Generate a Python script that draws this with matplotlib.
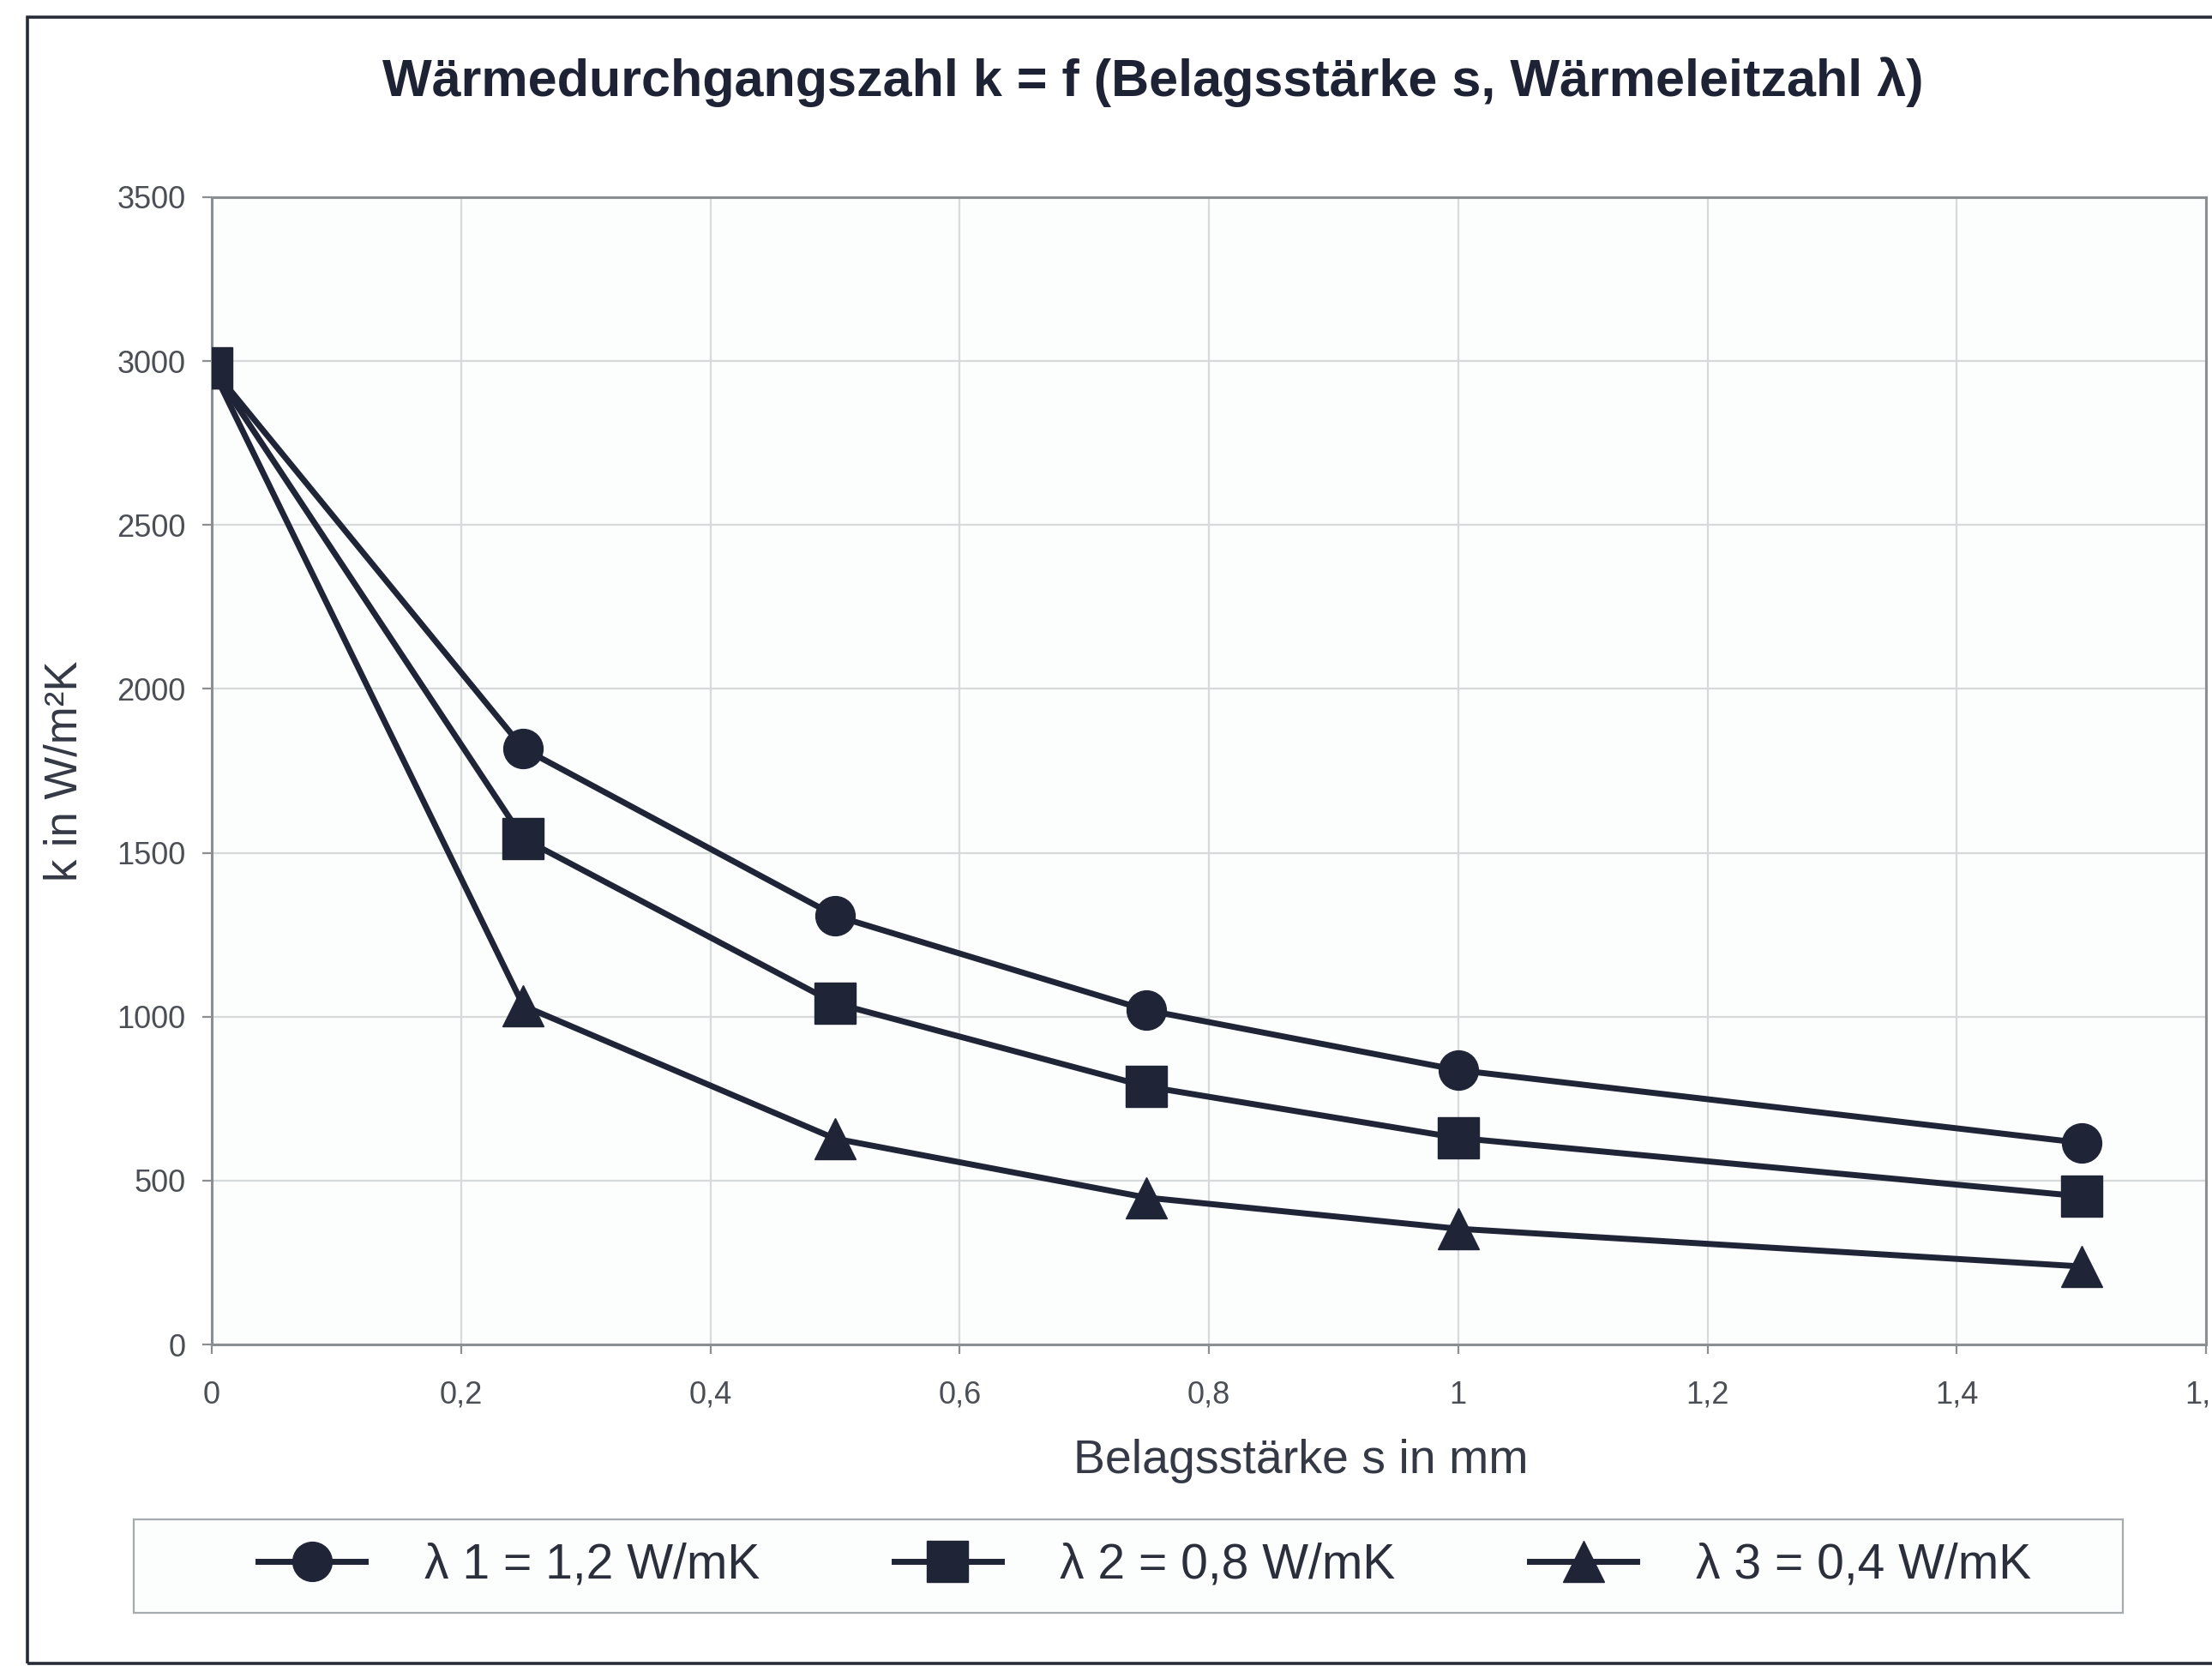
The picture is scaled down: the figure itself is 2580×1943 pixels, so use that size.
import matplotlib
matplotlib.use('Agg')
import matplotlib.pyplot as plt
from matplotlib.patches import Rectangle

# data
s_mm = [0, 0.25, 0.5, 0.75, 1.0, 1.5]
k_lam1 = [2980, 1818, 1308, 1020, 837, 615]     # lambda 1 = 1,2 W/mK
k_lam2 = [2980, 1543, 1041, 787, 630, 452]      # lambda 2 = 0,8 W/mK
k_lam3 = [2980, 1033, 628, 448, 353, 238]       # lambda 3 = 0,4 W/mK
labels = ['\u03bb 1 = 1,2 W/mK', '\u03bb 2 = 0,8 W/mK', '\u03bb 3 = 0,4 W/mK']
x_ticks = [0, 0.2, 0.4, 0.6, 0.8, 1.0, 1.2, 1.4, 1.6]
x_ticklabels = ['0', '0,2', '0,4', '0,6', '0,8', '1', '1,2', '1,4', '1,6']
y_ticks = [0, 500, 1000, 1500, 2000, 2500, 3000, 3500]

plt.rcParams['font.family'] = ['Liberation Sans', 'DejaVu Sans']

W, H = 2580, 1943
fig = plt.figure(figsize=(W / 100, H / 100), dpi=100)
fig.patch.set_facecolor('white')

# outer chart frame (right side is cut off in the scan)
fig.patches.append(Rectangle((32 / W, 3 / H), 1.2, 1 - 23 / H,
                             transform=fig.transFigure, fill=False,
                             edgecolor='#262b37', linewidth=2.6, clip_on=False))

ax = fig.add_axes([247 / W, 1 - 1568 / H, (2573 - 247) / W, (1568 - 230) / H])
ax.set_facecolor('#fcfdfd')

dark = '#1f2437'
ax.plot(s_mm, k_lam1, color=dark, lw=5, marker='o', ms=33, label=labels[0], zorder=3)
ax.plot(s_mm, k_lam2, color=dark, lw=5, marker='s', ms=34, label=labels[1], zorder=3)
ax.plot(s_mm, k_lam3, color=dark, lw=5, marker='^', ms=35, label=labels[2], zorder=3)

ax.set_xlim(0, 1.6)
ax.set_ylim(0, 3500)
ax.set_xticks(x_ticks)
ax.set_xticklabels(x_ticklabels)
ax.set_yticks(y_ticks)
ax.grid(True, color='#d6dada', lw=1.6)
ax.set_axisbelow(True)
for sp in ax.spines.values():
    sp.set_color('#8c8f92')
    sp.set_linewidth(2.2)
ax.tick_params(axis='both', labelsize=26, labelcolor='#4b4f55',
               color='#8c8f92', width=1.6, length=8)
ax.tick_params(axis='x', pad=22)
ax.tick_params(axis='y', pad=14)

ax.set_xlabel('Belagsstärke s in mm', fontsize=40, color='#343945')
ax.xaxis.set_label_coords(0.546, -0.082)
ax.set_ylabel('k in W/m²K', fontsize=38, color='#343945')
ax.yaxis.set_label_coords(-0.063, 0.5)

fig.text(1345 / W, 1 - 112 / H,
         'Wärmedurchgangszahl k = f (Belagsstärke s, Wärmeleitzahl \u03bb)',
         ha='center', va='baseline', fontsize=44, fontweight='bold', color='#1e2235')

# legend box
fig.patches.append(Rectangle((156 / W, 1 - 1881 / H), (2476 - 156) / W, (1881 - 1772) / H,
                             transform=fig.transFigure, facecolor='#fcfdfd',
                             edgecolor='#a8abae', linewidth=1.6))
fig.legend(loc='center', bbox_to_anchor=(1335 / W, 1 - 1826 / H), ncol=3,
           frameon=False, fontsize=41, handlelength=2.2, handletextpad=1.2,
           columnspacing=2.75, labelcolor='#2a2f3b')

fig.savefig('out.png', dpi=100)
